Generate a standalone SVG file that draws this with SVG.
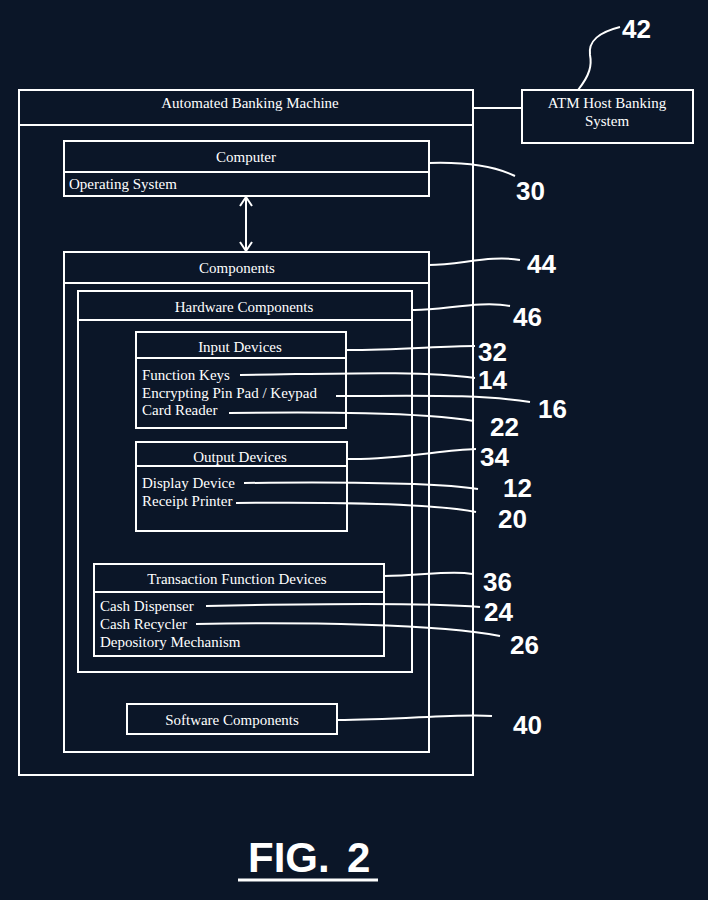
<svg xmlns="http://www.w3.org/2000/svg" width="708" height="900" viewBox="0 0 708 900">
<style>
.b{fill:none;stroke:#fff;stroke-width:2}
.l{fill:none;stroke:#fff;stroke-width:2}
.t{font-family:"Liberation Serif",serif;font-size:15px;fill:#fff}
.c{text-anchor:middle}
.n{font-family:"Liberation Sans",sans-serif;font-weight:bold;font-size:26px;fill:#fff}
</style>
<rect width="708" height="900" fill="#0b1628"/>
<g id="abm"><rect class="b" x="19" y="90" width="454" height="685"/><line class="b" x1="19" y1="125" x2="473" y2="125"/><text class="t c" x="250" y="108">Automated Banking Machine</text></g>
<g id="host"><rect class="b" x="522" y="90" width="171" height="53"/><text class="t c" x="607" y="108">ATM Host Banking</text><text class="t c" x="607" y="126">System</text></g>
<g id="computer"><rect class="b" x="64" y="141" width="365" height="55"/><line class="b" x1="64" y1="172" x2="429" y2="172"/><text class="t c" x="246" y="162">Computer</text><text class="t" x="69" y="189">Operating System</text></g>
<g id="components"><rect class="b" x="64" y="252" width="365" height="500"/><line class="b" x1="64" y1="283" x2="429" y2="283"/><text class="t c" x="237" y="273">Components</text></g>
<g id="hardware"><rect class="b" x="78" y="291" width="334" height="381"/><line class="b" x1="78" y1="320" x2="412" y2="320"/><text class="t c" x="244" y="312">Hardware Components</text></g>
<g id="input"><rect class="b" x="136" y="332" width="210" height="96"/><line class="b" x1="136" y1="358" x2="346" y2="358"/><text class="t c" x="240" y="352">Input Devices</text><text class="t" x="142" y="380">Function Keys</text><text class="t" x="142" y="398">Encrypting Pin Pad / Keypad</text><text class="t" x="142" y="415">Card Reader</text></g>
<g id="output"><rect class="b" x="136" y="442" width="211" height="89"/><line class="b" x1="136" y1="466" x2="347" y2="466"/><text class="t c" x="240" y="462">Output Devices</text><text class="t" x="142" y="488">Display Device</text><text class="t" x="142" y="506">Receipt Printer</text></g>
<g id="transaction"><rect class="b" x="94" y="564" width="290" height="92"/><line class="b" x1="94" y1="592" x2="384" y2="592"/><text class="t c" x="237" y="584">Transaction Function Devices</text><text class="t" x="100" y="611">Cash Dispenser</text><text class="t" x="100" y="629">Cash Recycler</text><text class="t" x="100" y="647">Depository Mechanism</text></g>
<g id="software"><rect class="b" x="127" y="704" width="210" height="30"/><text class="t c" x="232" y="725">Software Components</text></g>
<g id="connectors">
<line class="l" x1="473" y1="108" x2="522" y2="108"/>
<path class="l" d="M578,90 C590,75 592,65 590,55 C588,40 600,32 620,27"/>
<path class="l" d="M246,198 V250 M240,206 L246,197 L252,206 M240,242 L246,251 L252,242"/>
<path class="l" d="M429,163 C460,162 490,164 515,176"/>
<path class="l" d="M429,265 C460,265 490,255 520,260"/>
<path class="l" d="M412,310 C440,311 480,300 510,306"/>
<path class="l" d="M346,350 C400,350 440,346 475,346"/>
<path class="l" d="M240,375 C330,374 420,370 475,378"/>
<path class="l" d="M336,396 C420,396 480,394 530,402"/>
<path class="l" d="M229,413 C320,412 420,412 474,421"/>
<path class="l" d="M347,459 C400,460 440,450 476,449"/>
<path class="l" d="M244,483 C330,482 430,482 478,489"/>
<path class="l" d="M236,503 C330,502 430,503 476,512"/>
<path class="l" d="M384,576 C420,576 450,570 472,574"/>
<path class="l" d="M206,606 C300,604 420,602 480,607"/>
<path class="l" d="M196,624 C300,622 440,624 500,636"/>
<path class="l" d="M337,720 C400,720 460,713 492,716"/>
</g>
<g id="labels">
<text class="n" x="622" y="38">42</text>
<text class="n" x="516" y="200">30</text>
<text class="n" x="527" y="273">44</text>
<text class="n" x="513" y="326">46</text>
<text class="n" x="478" y="361">32</text>
<text class="n" x="478" y="389">14</text>
<text class="n" x="538" y="418">16</text>
<text class="n" x="490" y="436">22</text>
<text class="n" x="480" y="466">34</text>
<text class="n" x="503" y="497">12</text>
<text class="n" x="498" y="528">20</text>
<text class="n" x="483" y="591">36</text>
<text class="n" x="484" y="621">24</text>
<text class="n" x="510" y="654">26</text>
<text class="n" x="513" y="734">40</text>
<text font-family="Liberation Sans, sans-serif" font-weight="bold" font-size="42" fill="#fff" x="248" y="872">FIG.</text>
<text font-family="Liberation Sans, sans-serif" font-weight="bold" font-size="42" fill="#fff" x="347" y="872">2</text>
<line x1="238" y1="880" x2="378" y2="880" stroke="#fff" stroke-width="3"/>
</g>
</svg>
